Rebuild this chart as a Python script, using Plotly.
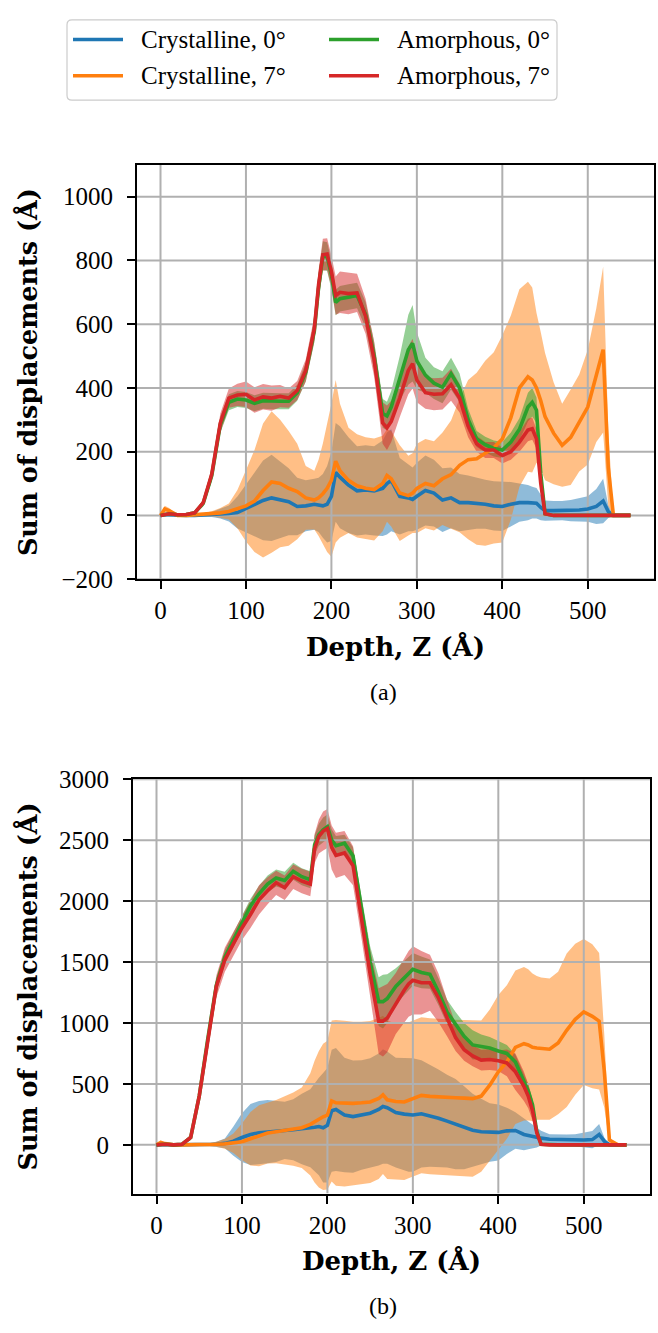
import plotly.graph_objects as go

# ---------------- data ----------------
Z = [0, 5, 10, 20, 30, 40, 50, 60, 70, 80,
     90, 100, 110, 120, 130, 140, 150, 160, 170, 180,
     185, 190, 195, 200, 205, 210, 220, 230, 240, 250,
     260, 265, 270, 280, 290, 295, 300, 310, 320, 330,
     340, 350, 360, 370, 380, 390, 400, 410, 420, 430,
     435, 440, 445, 450, 460, 470, 480, 490, 500, 510,
     518, 524, 530, 540, 550]

SERIES_NAMES = ["Crystalline, 0°", "Crystalline, 7°", "Amorphous, 0°", "Amorphous, 7°"]
X_TICKS = [0, 100, 200, 300, 400, 500]
Y_TICKS_A = [-200, 0, 200, 400, 600, 800, 1000]
Y_TICKS_B = [0, 500, 1000, 1500, 2000, 2500, 3000]

# ---- panel (a) ----
a_c0_mean = [0, 3, 2, 0, 0, 0, 1, 3, 5, 6,
             9, 22, 35, 47, 55, 50, 43, 28, 30, 35,
             33, 30, 35, 60, 135, 120, 95, 77, 80, 77,
             85, 100, 110, 60, 55, 50, 60, 78, 70, 48,
             55, 40, 40, 38, 35, 30, 28, 35, 40, 40,
             40, 38, 25, 15, 15, 15, 15, 17, 20, 28,
             45, 12, 0, 0, 0]
a_c0_std = [1, 2, 2, 1, 1, 2, 4, 8, 15, 25,
            50, 75, 100, 125, 135, 120, 105, 90, 80, 80,
            85, 100, 120, 140, 155, 160, 150, 140, 140, 140,
            150, 160, 160, 120, 105, 100, 105, 110, 105, 100,
            95, 90, 85, 80, 77, 77, 77, 70, 60, 55,
            50, 48, 40, 32, 30, 30, 33, 36, 40, 55,
            70, 20, 0, 0, 0]
a_c7_mean = [0, 20, 15, 0, 0, 2, 3, 5, 8, 12,
             20, 30, 45, 78, 105, 100, 85, 75, 55, 48,
             55, 68, 85, 110, 170, 140, 110, 93, 85, 81,
             100, 125, 115, 70, 62, 70, 85, 100, 93, 115,
             128, 157, 175, 178, 195, 212, 240, 307, 400, 435,
             425, 400, 360, 310, 258, 220, 245, 290, 340, 440,
             520, 150, 0, 0, 0]
a_c7_std = [1, 10, 8, 1, 1, 2, 4, 8, 15, 25,
            60, 112, 160, 210, 222, 200, 180, 150, 100, 92,
            120, 158, 200, 240, 255, 210, 165, 162, 160, 160,
            150, 145, 150, 150, 125, 125, 140, 140, 140, 145,
            170, 210, 250, 270, 290, 300, 325, 320, 310, 298,
            290, 235, 215, 200, 160, 130, 150, 152, 180, 210,
            260, 120, 0, 0, 0]
a_a0_mean = [0, 3, 5, 2, 3, 8, 38, 125, 285, 355,
             365, 362, 352, 360, 358, 358, 358, 385, 450, 578,
             715, 815, 812, 755, 668, 680, 685, 690, 630, 500,
             320, 312, 340, 430, 520, 540, 485, 440, 415, 402,
             445, 400, 300, 240, 222, 210, 205, 230, 270, 340,
             355, 330, 130, 5, 0, 0, 0, 0, 0, 0,
             0, 0, 0, 0, 0]
a_a0_std = [1, 2, 2, 2, 2, 4, 10, 18, 25, 25,
            25, 25, 25, 25, 25, 25, 25, 25, 30, 35,
            40, 45, 45, 45, 40, 40, 40, 40, 40, 45,
            45, 45, 50, 70, 110, 120, 90, 55, 50, 50,
            50, 45, 35, 25, 25, 25, 25, 30, 35, 45,
            45, 40, 20, 3, 0, 0, 0, 0, 0, 0,
            0, 0, 0, 0, 0]
a_a7_mean = [0, 3, 5, 2, 3, 8, 40, 130, 290, 368,
             378, 380, 362, 372, 368, 374, 368, 392, 455, 585,
             725, 818, 820, 765, 690, 700, 696, 698, 625, 490,
             290, 275, 295, 369, 455, 476, 425, 385, 380, 382,
             410, 368, 280, 225, 205, 205, 188, 200, 230, 268,
             272, 240, 100, 5, 0, 0, 0, 0, 0, 0,
             0, 0, 0, 0, 0]
a_a7_std = [1, 2, 2, 2, 2, 4, 10, 20, 30, 30,
            35, 40, 40, 40, 40, 35, 30, 30, 35, 40,
            45, 50, 50, 50, 60, 65, 65, 60, 55, 55,
            65, 70, 65, 60, 75, 78, 70, 50, 50, 50,
            50, 45, 35, 25, 25, 25, 25, 25, 30, 35,
            35, 30, 15, 3, 0, 0, 0, 0, 0, 0,
            0, 0, 0, 0, 0]

# ---- panel (b) ----
b_c0_mean = [0, 5, 3, 0, 0, 0, 0, 2, 5, 12,
             30, 60, 85, 100, 108, 110, 118, 124, 130, 137,
             145, 150, 140, 160, 280, 290, 245, 232, 245, 260,
             290, 315, 305, 265, 252, 245, 245, 255, 240, 218,
             195, 170, 140, 120, 108, 102, 102, 115, 118, 85,
             78, 68, 58, 55, 46, 43, 40, 37, 40, 43,
             85, 30, 0, 0, 0]
b_c0_std = [1, 3, 2, 1, 1, 2, 5, 10, 20, 40,
            120, 200, 250, 260, 260, 250, 235, 250, 290, 320,
            360, 400, 450, 470, 500, 505, 470, 460, 450, 450,
            460, 470, 460, 450, 460, 465, 465, 440, 420, 400,
            380, 370, 340, 300, 270, 240, 230, 190, 150, 130,
            115, 100, 80, 60, 40, 40, 45, 50, 60, 70,
            85, 30, 0, 0, 0]
b_c7_mean = [0, 20, 10, 0, 0, 0, 0, 2, 5, 8,
             14, 25, 50, 75, 97, 108, 118, 129, 140, 168,
             190, 210, 230, 244, 360, 345, 339, 340, 345, 352,
             380, 410, 370, 355, 352, 365, 379, 406, 398, 392,
             390, 387, 383, 379, 400, 490, 600, 680, 800, 830,
             820, 800, 795, 790, 785, 836, 940, 1030, 1090, 1055,
             1015, 607, 40, 0, 0]
b_c7_std = [1, 15, 8, 1, 1, 2, 5, 10, 20, 40,
            80, 150, 220, 250, 250, 260, 280, 300, 330, 420,
            500, 560, 600, 610, 660, 680, 680, 670, 665, 665,
            660, 650, 650, 640, 640, 640, 640, 640, 640, 640,
            640, 640, 640, 640, 620, 620, 630, 630, 630, 630,
            620, 605, 590, 583, 580, 585, 630, 620, 600, 590,
            560, 300, 20, 0, 0]
b_a0_mean = [0, 5, 5, 0, 5, 60, 400, 870, 1310, 1540,
             1680, 1820, 1960, 2060, 2140, 2190, 2170, 2245, 2200, 2175,
             2460, 2545, 2585, 2610, 2500, 2455, 2475, 2370, 1930, 1500,
             1175, 1175, 1200, 1300, 1370, 1405, 1440, 1415, 1400, 1255,
             1090, 990, 890, 820, 805, 795, 770, 750, 680, 520,
             440, 330, 110, 5, 0, 0, 0, 0, 0, 0,
             0, 0, 0, 0, 0]
b_a0_std = [1, 3, 3, 1, 3, 20, 50, 60, 60, 60,
            60, 60, 60, 65, 70, 70, 70, 70, 70, 70,
            80, 90, 100, 100, 90, 80, 70, 70, 90, 130,
            200, 220, 200, 150, 140, 135, 135, 130, 120, 110,
            100, 100, 110, 120, 100, 90, 80, 70, 60, 60,
            60, 50, 30, 3, 0, 0, 0, 0, 0, 0,
            0, 0, 0, 0, 0]
b_a7_mean = [0, 5, 5, 0, 5, 60, 400, 850, 1300, 1520,
             1650, 1780, 1890, 2010, 2085, 2150, 2110, 2200, 2165, 2140,
             2430, 2530, 2575, 2595, 2440, 2375, 2395, 2290, 1850, 1400,
             1015, 1015, 1040, 1160, 1270, 1320, 1350, 1330, 1330, 1205,
             1040, 880, 780, 730, 695, 700, 690, 672, 600, 480,
             400, 280, 100, 5, 0, 0, 0, 0, 0, 0,
             0, 0, 0, 0, 0]
b_a7_std = [1, 3, 3, 1, 3, 20, 60, 80, 90, 100,
            100, 100, 110, 120, 110, 100, 100, 100, 100, 100,
            120, 140, 160, 160, 180, 185, 180, 160, 160, 200,
            270, 290, 280, 250, 260, 270, 280, 260, 230, 200,
            150, 110, 90, 86, 85, 85, 85, 110, 150, 120,
            100, 80, 40, 3, 0, 0, 0, 0, 0, 0,
            0, 0, 0, 0, 0]

# ---------------- styling ----------------
W, H = 658, 1333
FONT = "Liberation Serif"
TITLE_FONT = "DejaVu Serif"
COLORS = ["#1f77b4", "#ff7f0e", "#2ca02c", "#d62728"]
GRID = "#b0b0b0"
X_RANGE = [-27.5, 577.5]


def rgba(hx, a):
    h = hx.lstrip("#")
    return "rgba(%d,%d,%d,%.2f)" % (int(h[0:2], 16), int(h[2:4], 16), int(h[4:6], 16), a)


def px_x(px):
    return px / W


def px_y(py):
    return 1 - py / H


panels = [
    dict(xa="x", ya="y", box=(137, 155, 654, 578), yr=[-200.5, 1100], yt=Y_TICKS_A,
         means=[a_c0_mean, a_c7_mean, a_a0_mean, a_a7_mean],
         stds=[a_c0_std, a_c7_std, a_a0_std, a_a7_std], cap="(a)"),
    dict(xa="x2", ya="y2", box=(133, 782, 650, 1205), yr=[-400, 3000.5], yt=Y_TICKS_B,
         means=[b_c0_mean, b_c7_mean, b_a0_mean, b_a7_mean],
         stds=[b_c0_std, b_c7_std, b_a0_std, b_a7_std], cap="(b)"),
]

fig = go.Figure()
annotations = []
shapes = []

for p in panels:
    for d in [p["means"], p["stds"]]:
        for arr in d:
            assert len(arr) == len(Z), len(arr)
    # bands (below grid)
    for col, m, s in zip(COLORS, p["means"], p["stds"]):
        up = [a + b for a, b in zip(m, s)]
        lo = [a - b for a, b in zip(m, s)]
        fig.add_trace(go.Scatter(x=Z, y=up, xaxis=p["xa"], yaxis=p["ya"], mode="lines",
                                 line=dict(width=0, color=rgba(col, 0.5)),
                                 hoverinfo="skip", showlegend=False))
        fig.add_trace(go.Scatter(x=Z, y=lo, xaxis=p["xa"], yaxis=p["ya"], mode="lines",
                                 line=dict(width=0, color=rgba(col, 0.5)),
                                 fill="tonexty", fillcolor=rgba(col, 0.5),
                                 hoverinfo="skip", showlegend=False))
    # grid (between bands and lines, like matplotlib)
    gx, gy = [], []
    for t in X_TICKS:
        gx += [t, t, None]
        gy += [p["yr"][0], p["yr"][1], None]
    for t in p["yt"]:
        gx += [X_RANGE[0], X_RANGE[1], None]
        gy += [t, t, None]
    fig.add_trace(go.Scatter(x=gx, y=gy, xaxis=p["xa"], yaxis=p["ya"], mode="lines",
                             line=dict(color=GRID, width=2), hoverinfo="skip", showlegend=False))
    # mean lines
    for name, col, m in zip(SERIES_NAMES, COLORS, p["means"]):
        fig.add_trace(go.Scatter(x=Z, y=m, xaxis=p["xa"], yaxis=p["ya"], mode="lines",
                                 name=name, line=dict(color=col, width=3.6), showlegend=False))

    x0, y0, x1, y1 = p["box"]
    ax_common = dict(ticks="outside", ticklen=8, tickwidth=2, tickcolor="black",
                     showline=True, mirror=True, linecolor="black", linewidth=2,
                     showgrid=False, zeroline=False, layer="above traces",
                     tickfont=dict(family=FONT, size=25, color="black"))
    xkey = "xaxis" if p["xa"] == "x" else "xaxis2"
    ykey = "yaxis" if p["ya"] == "y" else "yaxis2"
    fig.update_layout(**{
        xkey: dict(domain=[px_x(x0), px_x(x1)], range=X_RANGE, tickvals=X_TICKS,
                   anchor=p["ya"], **ax_common),
        ykey: dict(domain=[px_y(y1), px_y(y0)], range=p["yr"], tickvals=p["yt"],
                   anchor=p["xa"], ticklabelstandoff=9, **ax_common),
    })
    cx = (x0 + x1) / 2
    annotations.append(dict(text="<b>Depth, Z (Å)</b>", x=px_x(cx), y=px_y(y1 + 69),
                            xref="paper", yref="paper", showarrow=False,
                            xanchor="center", yanchor="middle",
                            font=dict(family=TITLE_FONT, size=26, color="black")))
    annotations.append(dict(text="<b>Sum of displacements (Å)</b>", x=px_x(28),
                            y=px_y((y0 + y1) / 2), xref="paper", yref="paper",
                            showarrow=False, textangle=-90, xanchor="center", yanchor="middle",
                            font=dict(family=TITLE_FONT, size=25.5, color="black")))
    annotations.append(dict(text=p["cap"], x=px_x(383), y=px_y(y1 + 115),
                            xref="paper", yref="paper", showarrow=False,
                            xanchor="center", yanchor="middle",
                            font=dict(family=FONT, size=24, color="black")))

# legend (drawn manually to match matplotlib's layout)
L, T, R, B, r = 67, 7, 557, 89, 5
path = ("M %f,%f L %f,%f Q %f,%f %f,%f L %f,%f Q %f,%f %f,%f L %f,%f Q %f,%f %f,%f "
        "L %f,%f Q %f,%f %f,%f Z") % (
    px_x(L + r), px_y(T), px_x(R - r), px_y(T), px_x(R), px_y(T), px_x(R), px_y(T + r),
    px_x(R), px_y(B - r), px_x(R), px_y(B), px_x(R - r), px_y(B),
    px_x(L + r), px_y(B), px_x(L), px_y(B), px_x(L), px_y(B - r),
    px_x(L), px_y(T + r), px_x(L), px_y(T), px_x(L + r), px_y(T))
shapes.append(dict(type="path", path=path, xref="paper", yref="paper",
                   line=dict(color="#cccccc", width=1.2), fillcolor="rgba(255,255,255,0.8)"))
slots = [(73, 27), (73, 64), (329, 27), (329, 64)]  # order C0, C7, A0, A7
for (hx, hy), name, col in zip(slots, SERIES_NAMES, COLORS):
    shapes.append(dict(type="line", xref="paper", yref="paper",
                       x0=px_x(hx), x1=px_x(hx + 50), y0=px_y(hy), y1=px_y(hy),
                       line=dict(color=col, width=3.6)))
    annotations.append(dict(text=name, x=px_x(hx + 66), y=px_y(hy), xref="paper", yref="paper",
                            showarrow=False, xanchor="left", yanchor="middle",
                            font=dict(family=FONT, size=25, color="black")))

fig.update_layout(width=W, height=H, margin=dict(l=0, r=0, t=0, b=0),
                  paper_bgcolor="white", plot_bgcolor="white",
                  font=dict(family=FONT, color="black"),
                  showlegend=False, annotations=annotations, shapes=shapes)

fig.write_html("out.html")
